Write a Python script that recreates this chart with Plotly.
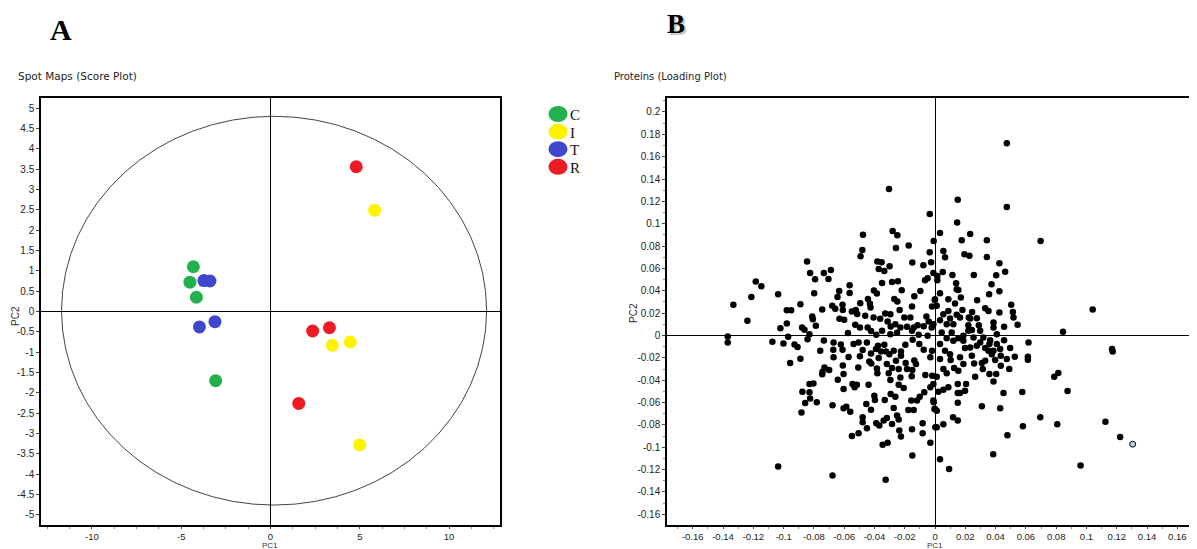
import plotly.graph_objects as go

# ---------------- Panel A: score plot ----------------
groups = ["C", "I", "T", "R"]
group_colors = ["#22b14c", "#fff200", "#3f48cc", "#ed1c24"]
score_pc1 = {
    "C": [-4.32, -4.51, -4.15, -3.07],
    "I": [5.83, 3.46, 4.47, 4.99],
    "T": [-3.73, -3.39, -3.98, -3.11],
    "R": [4.80, 2.36, 3.30, 1.58],
}
score_pc2 = {
    "C": [1.10, 0.72, 0.35, -1.70],
    "I": [2.49, -0.83, -0.75, -3.28],
    "T": [0.76, 0.75, -0.38, -0.25],
    "R": [3.56, -0.48, -0.40, -2.26],
}
ellipse_pc1 = [-11.7, 12.1]
ellipse_pc2 = [-4.76, 4.8]
a_xticks = [-10, -5, 0, 5, 10]
a_yticks = [-5, -4.5, -4, -3.5, -3, -2.5, -2, -1.5, -1, -0.5, 0, 0.5, 1, 1.5, 2, 2.5, 3, 3.5, 4, 4.5, 5]

# ---------------- Panel B: loading plot ----------------
load_pc1_neg = [-0.0304, -0.0035, -0.0476, -0.028, -0.0249, -0.0258, -0.0174, -0.0009, -0.048, -0.0492,
    -0.0035, -0.0845, -0.0825, -0.0792, -0.0734, -0.0688, -0.0704, -0.1184, -0.1147, -0.1213,
    -0.1332, -0.1239, -0.1036, -0.0798, -0.0889, -0.0979, -0.095, -0.0979, -0.1021, -0.1369,
    -0.1369, -0.1074, -0.1001, -0.097, -0.0928, -0.0908, -0.0957, -0.0889, -0.0878, -0.0862,
    -0.0829, -0.0842, -0.0811, -0.0807, -0.0787, -0.0745, -0.0734, -0.0758, -0.0679, -0.0659,
    -0.0633, -0.0644, -0.0611, -0.0609, -0.0631, -0.06, -0.0564, -0.0564, -0.0549, -0.0523,
    -0.0514, -0.0494, -0.0527, -0.0575, -0.0496, -0.0461, -0.0443, -0.043, -0.0426, -0.0445,
    -0.0406, -0.0404, -0.0384, -0.0381, -0.0353, -0.0372, -0.0335, -0.03, -0.035, -0.0284,
    -0.0245, -0.022, -0.0269, -0.0249, -0.0137, -0.015, -0.0077, -0.0066, -0.0049, -0.0097,
    -0.0026, -0.0011, -0.0002, -0.002, -0.0152, -0.0163, -0.0203, -0.0234, -0.0295, -0.0329,
    -0.0362, -0.0313, -0.0293, -0.0262, -0.0229, -0.0185, -0.0141, -0.0115, -0.0075, -0.0057,
    -0.0042, -0.0022, -0.0423, -0.0388, -0.035, -0.0295, -0.0251, -0.0152, -0.0108, -0.0049,
    -0.067, -0.0622, -0.0672, -0.0611, -0.067, -0.0571, -0.0538, -0.0505, -0.0496, -0.0507,
    -0.0609, -0.0604, -0.0642, -0.0743, -0.073, -0.0699, -0.0745, -0.0829, -0.0803, -0.0876,
    -0.0829, -0.0858, -0.0825, -0.0781, -0.0882, -0.0677, -0.0604, -0.0604, -0.0586, -0.056,
    -0.0545, -0.0531, -0.0516, -0.0454, -0.0423, -0.0397, -0.0401, -0.0439, -0.0478, -0.0478,
    -0.045, -0.0505, -0.0549, -0.0388, -0.0368, -0.0339, -0.0318, -0.0284, -0.0332, -0.0293,
    -0.0262, -0.0273, -0.0251, -0.024, -0.0236, -0.0225, -0.0346, -0.0313, -0.0152, -0.0082,
    -0.0082, -0.0031, -0.015, -0.1036, -0.0677, -0.0326, -0.0176, -0.0141, -0.0157, -0.0119,
    -0.0101, -0.0071, -0.0031, -0.0009, -0.0004, 0.0002, -0.0018, -0.0064, -0.0154, -0.015,
    -0.0126, -0.0137, -0.0031, -0.002, -0.0075, -0.0104, -0.0148, -0.0196, -0.0225, -0.0225,
    -0.0194, -0.0185, -0.024, -0.0229, -0.0207, -0.024, -0.0295, -0.0306, -0.0284, -0.0318,
    -0.0258, -0.0302, -0.0335, -0.0377, -0.039, -0.0423, -0.0434, -0.0421, -0.0372, -0.0357,
    -0.0324, -0.0273, -0.045, -0.0478, -0.0384, -0.0381]
load_pc2_neg = [0.131, 0.1086, 0.0902, 0.0934, 0.0896, 0.0783, 0.0806, 0.0845, 0.0765, 0.0708,
    0.0744, 0.0661, 0.0559, 0.0503, 0.0559, 0.0586, 0.0506, 0.0482, 0.044, 0.0345,
    0.0274, 0.0131, 0.0369, 0.0378, 0.028, 0.0226, 0.0226, 0.0107, 0.0065, -0.0009,
    -0.0062, -0.0057, -0.0071, -0.0012, -0.008, -0.0104, -0.0247, -0.0208, 0.0071, 0.0051,
    0.0012, -0.0033, 0.017, 0.0146, 0.0086, 0.0232, -0.0045, -0.0137, 0.0265, 0.0238,
    0.0399, 0.0345, 0.0274, 0.0229, 0.0149, 0.014, 0.0449, 0.0381, 0.0214, 0.0229,
    0.0193, 0.0289, 0.0095, 0.0021, 0.0071, 0.0176, 0.0327, 0.0283, 0.025, 0.0071,
    0.0161, 0.0402, 0.0375, 0.0661, 0.0655, 0.0595, 0.0577, 0.0619, 0.047, 0.0479,
    0.0485, 0.0405, 0.0327, 0.0304, 0.0351, 0.0652, 0.0628, 0.0494, 0.0512, 0.0399,
    0.0655, 0.0559, 0.0318, 0.0259, 0.0259, 0.0161, 0.0161, 0.0229, 0.019, 0.0196,
    0.0149, 0.0125, 0.008, 0.0101, 0.0071, 0.0077, 0.0071, 0.0092, 0.0083, 0.017,
    0.0125, 0.0071, 0.0039, 0.0006, 0.0042, 0.0012, 0.0024, 0.0042, 0.0006, -0.0003,
    -0.0062, -0.008, -0.0128, -0.0128, -0.0196, -0.0193, -0.0077, -0.0062, -0.0187, -0.0286,
    -0.0268, -0.0345, -0.0396, -0.0324, -0.0286, -0.031, -0.0348, -0.0434, -0.0429, -0.0503,
    -0.0509, -0.0604, -0.0565, -0.0598, -0.069, -0.0625, -0.0479, -0.0652, -0.0637, -0.0682,
    -0.0434, -0.0464, -0.044, -0.0613, -0.0664, -0.0577, -0.0539, -0.044, -0.0732, -0.0777,
    -0.083, -0.0875, -0.0899, -0.0786, -0.0806, -0.0762, -0.0738, -0.0792, -0.0577, -0.0524,
    -0.0548, -0.0649, -0.0717, -0.0753, -0.0851, -0.0905, -0.0979, -0.0961, -0.0839, -0.0786,
    -0.0875, -0.0961, -0.1074, -0.1173, -0.1253, -0.1292, -0.0667, -0.0667, -0.0583, -0.0583,
    -0.0548, -0.0509, -0.0464, -0.0598, -0.0658, -0.0821, -0.036, -0.0354, -0.0366, -0.031,
    -0.0256, -0.0223, -0.0196, -0.0137, -0.0128, -0.0077, -0.0039, -0.0083, -0.0143, -0.0182,
    -0.0247, -0.0301, -0.0301, -0.0375, -0.047, -0.044, -0.0399, -0.0339, -0.0292, -0.0256,
    -0.0226, -0.0167, -0.0083, -0.0092, -0.0122, -0.0161, -0.0232, -0.025, -0.0202, -0.0143,
    -0.0143, -0.0137, -0.0062, -0.0131, -0.0295, -0.0339]
load_pc1_pos = [0.0474, 0.0474, 0.015, 0.0146, 0.0697, 0.0033, 0.0176, 0.0232, 0.0342, 0.0055,
    0.0066, 0.0194, 0.0227, 0.0342, 0.0425, 0.0463, 0.0404, 0.0256, 0.0115, 0.0051,
    0.0015, 0.0015, 0.0139, 0.0143, 0.0154, 0.0373, 0.0425, 0.0357, 0.0033, 0.0088,
    0.0132, 0.017, 0.0181, 0.0278, 0.0, 0.0011, 0.0331, 0.0353, 0.0245, 0.0276,
    0.0223, 0.0143, 0.0099, 0.0055, 0.0033, -0.0011, 0.0077, 0.0121, 0.022, 0.0289,
    0.0298, 0.0243, 0.0386, 0.0386, 0.0425, 0.0456, 0.0503, 0.0514, 0.0518, 0.0545,
    0.1041, 0.0845, 0.0408, 0.0456, 0.0496, 0.0527, 0.0474, 0.049, 0.0434, 0.0434,
    0.0386, 0.0359, 0.0364, 0.0331, 0.0298, 0.0254, 0.0232, 0.0198, 0.0187, 0.0154,
    0.0121, 0.0077, 0.0033, 0.0066, 0.0033, 0.0103, 0.0165, 0.0258, 0.0309, 0.0331,
    0.0397, 0.0315, 0.0265, 0.0359, 0.0404, 0.0386, 0.0617, 0.0613, 0.0613, 0.0787,
    0.0814, 0.0875, 0.0576, 0.0452, 0.043, 0.0309, 0.0695, 0.058, 0.0478, 0.0807,
    0.1125, 0.1169, 0.1173, 0.1222, 0.0961, 0.0384, 0.0093, 0.0033, 0.015, 0.0119,
    0.0055, 0.0011, 0.015, 0.015, 0.0165, 0.0198, 0.0205, 0.015, 0.0088, 0.0055,
    0.0022, 0.0, 0.0011, -0.0011, 0.0077, 0.0126, 0.0154, 0.0055, 0.0011, -0.0011,
    0.0353, 0.0375, 0.043, 0.0243, 0.0187, 0.0099, 0.0276, 0.0319, 0.0408, 0.022,
    0.0187, 0.011, 0.0044, 0.0165, 0.0088, 0.0232]
load_pc2_pos = [0.172, 0.1149, 0.1214, 0.1012, 0.0845, 0.0917, 0.0851, 0.0908, 0.0851, 0.0756,
    0.0699, 0.0726, 0.0714, 0.0702, 0.0646, 0.0571, 0.0539, 0.0542, 0.0542, 0.0568,
    0.0533, 0.0494, 0.0467, 0.0414, 0.0408, 0.0458, 0.0396, 0.0369, 0.0378, 0.0324,
    0.0286, 0.0339, 0.0229, 0.0315, 0.0324, 0.0265, 0.0244, 0.022, 0.0211, 0.0155,
    0.0161, 0.0185, 0.0152, 0.019, 0.0137, 0.0101, 0.0101, 0.0101, 0.0092, 0.0092,
    0.0042, 0.0048, 0.0116, 0.0071, 0.0205, 0.0077, 0.0274, 0.0211, 0.0161, 0.0095,
    0.0232, 0.0033, 0.0012, -0.0042, -0.0113, -0.019, -0.0211, -0.0301, -0.0271, -0.0182,
    -0.0137, -0.0077, -0.0042, -0.0113, -0.0062, -0.0018, -0.0107, -0.0113, -0.0048, -0.0024,
    -0.0048, -0.0024, -0.0077, -0.0137, -0.0211, -0.022, -0.0196, -0.025, -0.0247, -0.0226,
    -0.022, -0.0301, -0.0369, -0.0345, -0.0345, -0.0411, -0.0062, -0.019, -0.0217, -0.0369,
    -0.0336, -0.0497, -0.0506, -0.0515, -0.0652, -0.0634, -0.0732, -0.0812, -0.0893, -0.0795,
    -0.0771, -0.0122, -0.0143, -0.0908, -0.1164, -0.1062, -0.1196, -0.1107, -0.0762, -0.0732,
    -0.0795, -0.0821, -0.0601, -0.0515, -0.0515, -0.0494, -0.0434, -0.0434, -0.0464, -0.0485,
    -0.0503, -0.0658, -0.0673, -0.0583, -0.0339, -0.0292, -0.0315, -0.0301, -0.0369, -0.0434,
    -0.0137, -0.0167, -0.0122, -0.0182, -0.0256, -0.0167, -0.0092, -0.0018, -0.0077, 0.0042,
    -0.0003, 0.0027, 0.0027, 0.0161, 0.022, 0.0152]
highlight_pc1 = [0.1305]
highlight_pc2 = [-0.0973]
b_xticks = [-0.16, -0.14, -0.12, -0.1, -0.08, -0.06, -0.04, -0.02, 0, 0.02, 0.04, 0.06, 0.08, 0.1, 0.12, 0.14, 0.16]
b_yticks = [-0.16, -0.14, -0.12, -0.1, -0.08, -0.06, -0.04, -0.02, 0, 0.02, 0.04, 0.06, 0.08, 0.1, 0.12, 0.14, 0.16, 0.18, 0.2]


def fmt(v):
    return "%g" % v


W, H = 1197, 549
OFF = 8  # page body margin of the exported html


def PX(x):
    return (x - OFF) / W


def PY(y):
    return 1 - (y - OFF) / H


fig = go.Figure()

for g, c in zip(groups, group_colors):
    fig.add_trace(go.Scatter(
        x=score_pc1[g], y=score_pc2[g], mode="markers", name=g,
        marker=dict(size=13, color=c, line=dict(width=0)),
        xaxis="x", yaxis="y", showlegend=False))

fig.add_trace(go.Scatter(
    x=load_pc1_neg + load_pc1_pos, y=load_pc2_neg + load_pc2_pos, mode="markers",
    marker=dict(size=6.5, color="black", line=dict(width=0)),
    xaxis="x2", yaxis="y2", showlegend=False))
fig.add_trace(go.Scatter(
    x=highlight_pc1, y=highlight_pc2, mode="markers",
    marker=dict(size=6, color="#b9cde8", line=dict(width=1, color="black")),
    xaxis="x2", yaxis="y2", showlegend=False))

fig.add_shape(type="circle", xref="x", yref="y",
              x0=ellipse_pc1[0], x1=ellipse_pc1[1], y0=ellipse_pc2[0], y1=ellipse_pc2[1],
              line=dict(color="#444444", width=1), layer="below")

# manual legend (ellipse swatches + serif labels)
for i, (g, c) in enumerate(zip(groups, group_colors)):
    yc = 114 + i * 17.6
    fig.add_shape(type="circle", xref="paper", yref="paper",
                  xsizemode="pixel", ysizemode="pixel",
                  xanchor=PX(558), yanchor=PY(yc), x0=-9.5, x1=9.5, y0=-8, y1=8,
                  fillcolor=c, line=dict(width=0))
    fig.add_annotation(text=g, xref="paper", yref="paper", x=PX(568), y=PY(yc + 1),
                       showarrow=False, xanchor="left", yanchor="middle",
                       font=dict(family="Liberation Serif, Times New Roman, serif", size=15, color="#111"))

tickfont = dict(family="Liberation Sans, Arial, sans-serif", size=10, color="#222222")
xtickfont = dict(tickfont, size=9.5)
axis_common = dict(showgrid=False, showline=True, linecolor="black", linewidth=1.5, mirror=True,
                   zeroline=True, zerolinecolor="black", zerolinewidth=1.2,
                   ticks="outside", tickcolor="#444444",
                   automargin=False, fixedrange=True)

yd = [PY(525), PY(98)]
fig.update_layout(
    width=W, height=H, margin=dict(l=0, r=0, t=0, b=0),
    paper_bgcolor="white", plot_bgcolor="white", showlegend=False,
    xaxis=dict(domain=[PX(41), PX(500)], range=[-12.85, 12.85], anchor="y",
               tickvals=a_xticks, ticktext=[fmt(v) for v in a_xticks], ticklen=2, tickfont=xtickfont,
               minor=dict(ticks="outside", ticklen=2, dtick=1.25, tick0=0, tickcolor="#888888"),
               **axis_common),
    yaxis=dict(domain=yd, range=[-5.25, 5.25], anchor="x",
               tickvals=a_yticks, ticktext=[fmt(v) for v in a_yticks], ticklen=3, tickfont=tickfont,
               **axis_common),
    xaxis2=dict(domain=[PX(667), PX(1194)], range=[-0.177, 0.171], anchor="y2",
                tickvals=b_xticks, ticktext=[fmt(v) for v in b_xticks], ticklen=2, tickfont=xtickfont,
                minor=dict(ticks="outside", ticklen=2, dtick=0.01, tick0=0, tickcolor="#888888"),
                **axis_common),
    yaxis2=dict(domain=yd, range=[-0.1696, 0.2125], anchor="x2",
                tickvals=b_yticks, ticktext=[fmt(v) for v in b_yticks], ticklen=3, tickfont=tickfont,
                minor=dict(ticks="outside", ticklen=2, dtick=0.01, tick0=0, tickcolor="#888888"),
                **axis_common),
)

axis_title_font = dict(family="Liberation Sans, Arial, sans-serif", size=8, color="#333")
fig.add_annotation(text="PC1", xref="paper", yref="paper", x=PX(270), y=PY(540),
                   showarrow=False, xanchor="center", yanchor="top", borderpad=0, height=9,
                   font=axis_title_font)
fig.add_annotation(text="PC1", xref="paper", yref="paper", x=PX(935), y=PY(540),
                   showarrow=False, xanchor="center", yanchor="top", borderpad=0, height=9,
                   font=axis_title_font)
fig.add_annotation(text="PC2", xref="paper", yref="paper", x=PX(15), y=PY(316), textangle=-90,
                   showarrow=False, xanchor="center", yanchor="middle", font=dict(axis_title_font, size=10))
fig.add_annotation(text="PC2", xref="paper", yref="paper", x=PX(633), y=PY(313), textangle=-90,
                   showarrow=False, xanchor="center", yanchor="middle", font=dict(axis_title_font, size=10))

fig.add_annotation(text="<b>A</b>", xref="paper", yref="paper", x=PX(61), y=PY(30),
                   showarrow=False, xanchor="center", yanchor="middle",
                   font=dict(family="Liberation Serif, Times New Roman, serif", size=30, color="black"))
fig.add_annotation(text="<b>B</b>", xref="paper", yref="paper", x=PX(678), y=PY(26),
                   showarrow=False, xanchor="center", yanchor="middle", height=26, borderpad=0,
                   font=dict(family="Liberation Serif, Times New Roman, serif", size=27, color="#c8c8c8"))
fig.add_annotation(text="<b>B</b>", xref="paper", yref="paper", x=PX(676), y=PY(24),
                   showarrow=False, xanchor="center", yanchor="middle", height=26, borderpad=0,
                   font=dict(family="Liberation Serif, Times New Roman, serif", size=27, color="black"))
fig.add_annotation(text="Spot Maps (Score Plot)", xref="paper", yref="paper", x=PX(16), y=PY(76),
                   showarrow=False, xanchor="left", yanchor="middle",
                   font=dict(family="DejaVu Sans, Verdana, sans-serif", size=10.5, color="#222"))
fig.add_annotation(text="Proteins (Loading Plot)", xref="paper", yref="paper", x=PX(612), y=PY(76),
                   showarrow=False, xanchor="left", yanchor="middle",
                   font=dict(family="DejaVu Sans, Verdana, sans-serif", size=10, color="#222"))

fig.write_html("out.html")
